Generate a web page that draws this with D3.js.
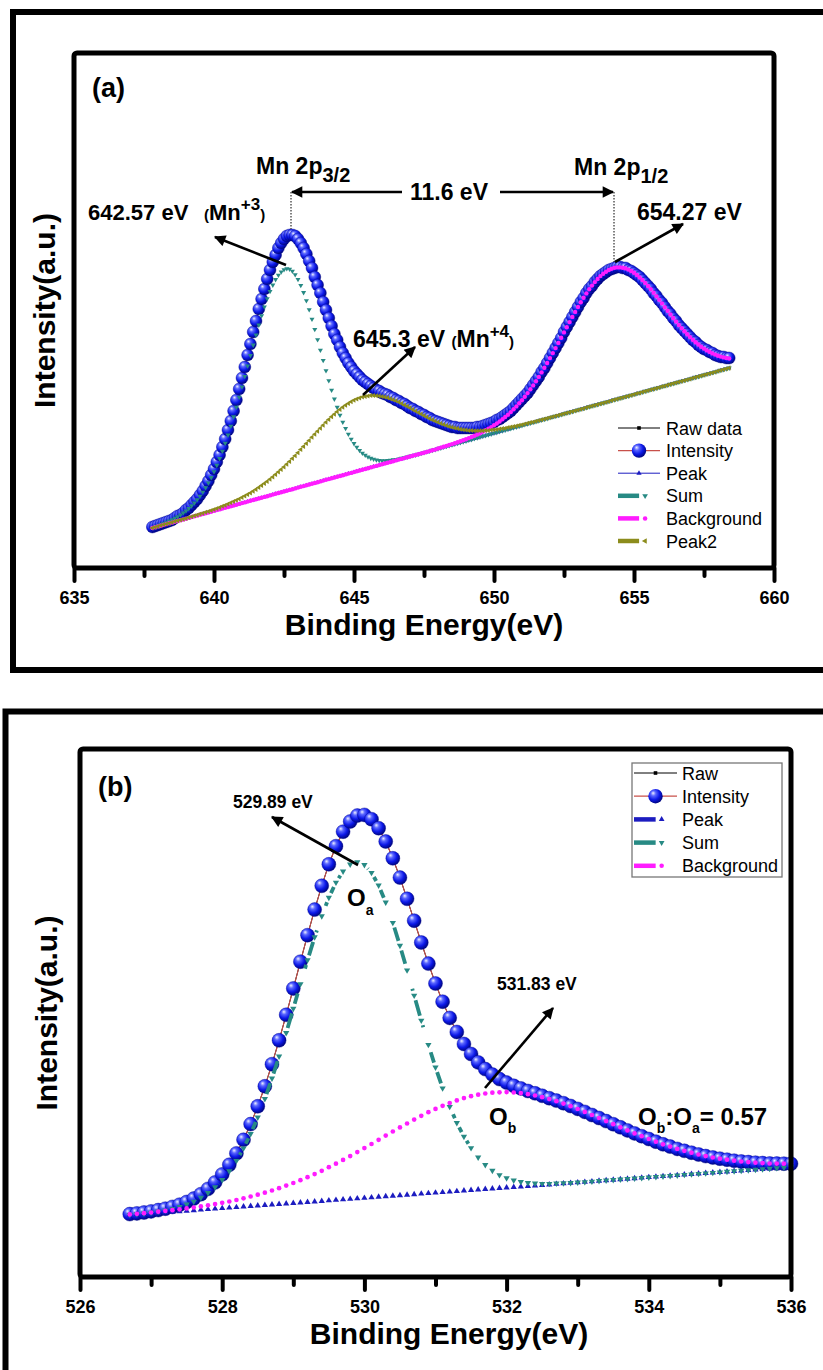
<!DOCTYPE html>
<html>
<head>
<meta charset="utf-8">
<script src="https://cdn.jsdelivr.net/npm/d3@7"></script>
<style>
  body { margin: 0; background: #fff; }
  svg { display: block; }
</style>
</head>
<body>
<svg id="chart" width="823" height="1370"></svg>
<script>
// ---------- Mn 2p spectrum (panel a), 0.1 eV steps from 637.8 eV ----------
const startA = 637.8, stepA = 0.1;
const ticksA = [635, 640, 645, 650, 655, 660];
const minorA = [637.5, 642.5, 647.5, 652.5, 657.5];

const intensityA = [
  41,42,43,44,45,46,47,48,50,52, 53,55,58,60,63,66,69,73,77,82,
  87,93,99,106,113,121,129,138,147,157, 168,179,190,201,213,224,236,247,259,269,
  279,289,298,306,313,320,325,329,332,333, 333,332,329,325,320,314,307,300,291,283,
  275,266,258,250,242,234,228,221,215,210, 205,201,197,194,191,188,186,184,182,180,
  178,177,175,174,173,171,170,168,167,165, 164,162,160,159,157,156,154,153,151,150,
  148,147,146,145,144,143,142,141,141,140, 140,140,140,140,140,140,141,141,142,143,
  144,145,146,148,149,151,153,155,157,160, 163,166,169,172,175,179,183,187,191,196,
  200,205,210,215,220,225,230,236,241,246, 251,256,261,266,270,275,279,282,286,289,
  292,294,296,298,299,300,301,301,300,300, 298,297,295,293,291,288,285,282,279,275,
  272,268,265,261,257,254,250,247,243,240, 237,234,231,228,226,223,221,219,218,216,
  215,213,212,211,211,210,210
];
// baseline ("Peak")
const peakA = [
  40.0,40.8,41.6,42.3,43.1,43.9,44.7,45.4,46.2,47.0, 47.8,48.5,49.3,50.1,50.9,51.7,52.4,53.2,54.0,54.8,
  55.5,56.3,57.1,57.9,58.6,59.4,60.2,61.0,61.7,62.5, 63.3,64.1,64.9,65.6,66.4,67.2,68.0,68.7,69.5,70.3,
  71.1,71.8,72.6,73.4,74.2,75.0,75.7,76.5,77.3,78.1, 78.8,79.6,80.4,81.2,81.9,82.7,83.5,84.3,85.0,85.8,
  86.6,87.4,88.2,88.9,89.7,90.5,91.3,92.0,92.8,93.6, 94.4,95.1,95.9,96.7,97.5,98.3,99.0,99.8,100.6,101.4,
  102.1,102.9,103.7,104.5,105.2,106.0,106.8,107.6,108.4,109.1, 109.9,110.7,111.5,112.2,113.0,113.8,114.6,115.3,116.1,116.9,
  117.7,118.4,119.2,120.0,120.8,121.6,122.3,123.1,123.9,124.7, 125.4,126.2,127.0,127.8,128.5,129.3,130.1,130.9,131.7,132.4,
  133.2,134.0,134.8,135.5,136.3,137.1,137.9,138.6,139.4,140.2, 141.0,141.7,142.5,143.3,144.1,144.9,145.6,146.4,147.2,148.0,
  148.7,149.5,150.3,151.1,151.8,152.6,153.4,154.2,155.0,155.7, 156.5,157.3,158.1,158.8,159.6,160.4,161.2,161.9,162.7,163.5,
  164.3,165.0,165.8,166.6,167.4,168.2,168.9,169.7,170.5,171.3, 172.0,172.8,173.6,174.4,175.1,175.9,176.7,177.5,178.3,179.0,
  179.8,180.6,181.4,182.1,182.9,183.7,184.5,185.2,186.0,186.8, 187.6,188.3,189.1,189.9,190.7,191.5,192.2,193.0,193.8,194.6,
  195.3,196.1,196.9,197.7,198.4,199.2,200.0
];
// 642.57 eV component ("Sum")
const sumA = [
  40.6,41.5,42.5,43.5,44.6,45.7,47.0,48.3,49.7,51.4, 53.1,55.1,57.1,59.5,62.2,65.1,68.3,71.9,75.9,80.3,
  85.1,90.5,96.3,102.7,109.5,116.9,124.8,133.0,141.9,151.2, 160.9,170.9,181.1,191.6,202.1,212.6,223.0,233.1,243.0,252.3,
  261.1,269.3,276.6,283.0,288.5,292.8,296.1,298.3,299.4,298.9, 296.9,293.4,288.6,282.6,275.5,267.3,258.3,248.8,238.6,228.3,
  217.9,207.6,197.3,187.4,177.9,169.0,160.7,152.9,145.9,139.6, 133.8,128.8,124.5,120.8,117.6,114.9,112.8,111.1,109.7,108.8,
  108.1,107.6,107.4,107.4,107.6,107.8,108.2,108.6,109.1,109.7, 110.4,111.0,111.7,112.3,113.0,113.8,114.6,115.3,116.1,116.9,
  117.7,118.4,119.2,120.0,120.8,121.6,122.3,123.1,123.9,124.7, 125.4,126.2,127.0,127.8,128.5,129.3,130.1,130.9,131.7,132.4,
  133.2,134.0,134.8,135.5,136.3,137.1,137.9,138.6,139.4,140.2, 141.0,141.7,142.5,143.3,144.1,144.9,145.6,146.4,147.2,148.0,
  148.7,149.5,150.3,151.1,151.8,152.6,153.4,154.2,155.0,155.7, 156.5,157.3,158.1,158.8,159.6,160.4,161.2,161.9,162.7,163.5,
  164.3,165.0,165.8,166.6,167.4,168.2,168.9,169.7,170.5,171.3, 172.0,172.8,173.6,174.4,175.1,175.9,176.7,177.5,178.3,179.0,
  179.8,180.6,181.4,182.1,182.9,183.7,184.5,185.2,186.0,186.8, 187.6,188.3,189.1,189.9,190.7,191.5,192.2,193.0,193.8,194.6,
  195.3,196.1,196.9,197.7,198.4,199.2,200.0
];
// 654.27 eV component ("Background")
const backgroundA = [
  40.0,40.8,41.6,42.3,43.1,43.9,44.7,45.4,46.2,47.0, 47.8,48.5,49.3,50.1,50.9,51.7,52.4,53.2,54.0,54.8,
  55.5,56.3,57.1,57.9,58.6,59.4,60.2,61.0,61.7,62.5, 63.3,64.1,64.9,65.6,66.4,67.2,68.0,68.7,69.5,70.3,
  71.1,71.8,72.6,73.4,74.2,75.0,75.7,76.5,77.3,78.1, 78.8,79.6,80.4,81.2,81.9,82.7,83.5,84.3,85.0,85.8,
  86.6,87.4,88.2,88.9,89.7,90.5,91.3,92.0,92.8,93.6, 94.4,95.1,95.9,96.7,97.5,98.3,99.0,99.8,100.6,101.4,
  102.1,102.9,103.7,104.5,105.2,106.0,106.8,107.6,108.4,109.1, 109.9,110.7,111.5,112.2,113.0,113.8,114.6,115.3,116.1,116.9,
  117.7,118.4,119.5,120.4,121.2,122.1,123.0,123.9,124.8,125.8, 126.7,127.8,128.8,129.9,131.0,132.2,133.5,134.8,136.2,137.7,
  139.3,140.9,142.7,144.5,146.5,148.7,151.0,153.3,155.9,158.7, 161.6,164.7,167.8,171.3,174.9,178.7,182.6,186.8,191.1,195.6,
  200.2,205.0,209.9,214.9,219.9,225.1,230.3,235.6,240.8,245.9, 251.1,256.1,261.0,265.7,270.2,274.6,278.7,282.4,285.9,289.0,
  291.9,294.3,296.3,298.0,299.3,300.2,300.6,300.6,300.3,299.6, 298.4,297.0,295.2,293.1,290.6,288.0,285.1,282.0,278.8,275.3,
  271.8,268.2,264.6,260.8,257.2,253.6,250.0,246.5,243.1,239.9, 236.8,233.8,230.9,228.3,225.8,223.5,221.3,219.4,217.6,216.1,
  214.6,213.4,212.3,211.4,210.6,210.0,209.5
];
// 645.3 eV component ("Peak2")
const peak2A = [
  40.0,40.8,41.6,42.4,43.2,44.0,44.8,45.6,46.4,47.2, 48.0,48.8,49.6,50.5,51.3,52.2,53.0,53.9,54.8,55.7,
  56.6,57.6,58.6,59.6,60.6,61.7,62.8,64.0,65.2,66.4, 67.7,69.1,70.5,72.0,73.5,75.1,76.8,78.6,80.4,82.4,
  84.4,86.5,88.7,91.0,93.4,95.9,98.4,101.0,103.8,106.6, 109.4,112.3,115.3,118.4,121.4,124.5,127.6,130.7,133.8,136.8,
  139.8,142.8,145.7,148.5,151.2,153.8,156.3,158.5,160.7,162.8, 164.6,166.2,167.7,169.0,170.1,171.0,171.6,172.1,172.4,172.5,
  172.3,172.1,171.6,171.0,170.2,169.3,168.3,167.2,165.9,164.5, 163.1,161.7,160.2,158.6,157.1,155.6,154.1,152.5,151.0,149.6,
  148.3,147.0,145.7,144.5,143.5,142.5,141.5,140.7,140.0,139.4, 138.7,138.3,137.9,137.6,137.4,137.3,137.2,137.2,137.3,137.4,
  137.6,137.9,138.2,138.5,138.9,139.4,139.8,140.4,140.9,141.5, 142.1,142.7,143.3,144.0,144.7,145.4,146.1,146.8,147.5,148.2,
  149.0,149.7,150.4,151.2,151.9,152.7,153.5,154.2,155.0,155.8, 156.5,157.3,158.1,158.8,159.6,160.4,161.2,161.9,162.7,163.5,
  164.3,165.0,165.8,166.6,167.4,168.2,168.9,169.7,170.5,171.3, 172.0,172.8,173.6,174.4,175.1,175.9,176.7,177.5,178.3,179.0,
  179.8,180.6,181.4,182.1,182.9,183.7,184.5,185.2,186.0,186.8, 187.6,188.3,189.1,189.9,190.7,191.5,192.2,193.0,193.8,194.6,
  195.3,196.1,196.9,197.7,198.4,199.2,200.0
];

// ---------- O 1s spectrum (panel b), 0.1 eV steps from 526.7 eV ----------
const startB = 526.7, stepB = 0.1;
const ticksB = [526, 528, 530, 532, 534, 536];
const minorB = [527, 529, 531, 533, 535];

const intensityB = [
  62.9,63.6,64.5,65.6,66.9,68.3,70.1,72.3,75.0,78.4, 82.8,88.1,94.6,102.6,112.2,123.6,137.2,152.9,170.7,190.7,
  212.8,236.7,262.2,288.5,315.3,341.8,367.4,391.2,412.7,430.8, 445.3,455.5,461.4,462.1,457.8,448.8,435.5,418.7,399.4,378.2,
  356.3,334.5,313.4,293.5,275.3,259.1,245.0,233.0,223.0,214.6, 207.9,202.4,197.9,194.4,191.2,188.6,186.0,183.7,181.2,178.8,
  176.4,173.8,171.0,168.1,165.1,162.0,159.0,155.9,152.8,149.7, 146.6,143.6,140.8,138.0,135.3,132.7,130.4,128.1,126.2,124.3,
  122.5,120.9,119.5,118.3,117.3,116.3,115.5,114.9,114.3,113.9, 113.5,113.4,113.3,113.2
];
const peakB = [
  62.0,62.5,63.0,63.5,64.1,64.6,65.1,65.6,66.1,66.6, 67.2,67.7,68.2,68.7,69.2,69.7,70.3,70.8,71.3,71.8,
  72.3,72.8,73.4,73.9,74.4,74.9,75.4,75.9,76.5,77.0, 77.5,78.0,78.5,79.0,79.5,80.1,80.6,81.1,81.6,82.1,
  82.6,83.2,83.7,84.2,84.7,85.2,85.7,86.3,86.8,87.3, 87.8,88.3,88.8,89.4,89.9,90.4,90.9,91.4,91.9,92.4,
  93.0,93.5,94.0,94.5,95.0,95.5,96.1,96.6,97.1,97.6, 98.1,98.6,99.2,99.7,100.2,100.7,101.2,101.7,102.3,102.8,
  103.3,103.8,104.3,104.8,105.4,105.9,106.4,106.9,107.4,107.9, 108.4,109.0,109.5,110.0
];
const sumB = [
  62.3,63.0,63.7,64.5,65.6,66.8,68.3,70.2,72.6,75.5, 79.4,84.1,89.9,97.1,105.9,116.3,128.8,143.2,159.7,178.2,
  198.6,220.7,244.2,268.4,292.9,316.9,339.9,360.9,379.4,394.5, 405.7,412.6,415.0,412.2,404.3,391.7,374.7,354.3,331.4,306.8,
  281.5,256.5,232.3,209.6,188.8,170.3,154.1,140.4,129.0,119.6, 112.2,106.4,102.0,98.9,96.6,95.1,94.1,93.6,93.3,93.3,
  93.6,93.9,94.2,94.6,95.0,95.5,96.1,96.6,97.1,97.6, 98.1,98.6,99.2,99.7,100.2,100.7,101.2,101.7,102.3,102.8,
  103.3,103.8,104.3,104.8,105.4,105.9,106.4,106.9,107.4,107.9, 108.4,109.0,109.5,110.0
];
const backgroundB = [
  62.6,63.2,63.8,64.5,65.3,66.1,66.8,67.7,68.6,69.5, 70.6,71.7,72.9,74.2,75.5,77.0,78.7,80.5,82.3,84.3,
  86.5,88.8,91.4,94.0,96.8,99.8,102.9,106.2,109.8,113.3, 117.1,120.9,124.9,128.9,133.0,137.2,141.4,145.5,149.6,153.5,
  157.4,161.2,164.8,168.1,171.2,174.0,176.6,178.9,180.8,182.3, 183.5,184.3,184.7,184.9,184.5,183.9,182.8,181.5,179.8,177.9,
  175.8,173.4,170.8,168.0,165.1,162.0,159.0,155.9,152.8,149.7, 146.6,143.6,140.8,138.0,135.3,132.7,130.4,128.1,126.2,124.3,
  122.5,120.9,119.5,118.3,117.3,116.3,115.5,114.9,114.3,113.9, 113.5,113.4,113.3,113.2
];

const legendA = ["Raw data", "Intensity", "Peak", "Sum", "Background", "Peak2"];
const legendB = ["Raw", "Intensity", "Peak", "Sum", "Background"];

const FONT = '"Liberation Sans", Arial, Helvetica, sans-serif';
const col = {
  raw: "#000", line: "#c8504a", peak: "#1c1cc0", sum: "#278a84",
  background: "#ff1cff", peak2: "#8c8c1c"
};

const svg = d3.select("#chart").attr("font-family", FONT);
svg.append("rect").attr("width", 823).attr("height", 1370).attr("fill", "#fff");

const defs = svg.append("defs");
const ball = defs.append("radialGradient").attr("id", "ball")
  .attr("cx", "40%").attr("cy", "38%").attr("r", "62%").attr("fx", "33%").attr("fy", "28%");
[["0%", "#eef0ff"], ["28%", "#5a66ff"], ["65%", "#0c18e8"], ["100%", "#000682"]]
  .forEach(s => ball.append("stop").attr("offset", s[0]).attr("stop-color", s[1]));
defs.append("marker").attr("id", "head").attr("viewBox", "0 0 10 10")
  .attr("refX", 9).attr("refY", 5).attr("markerWidth", 5.5).attr("markerHeight", 4.4)
  .attr("orient", "auto-start-reverse")
  .append("path").attr("d", "M0,0L10,5L0,10z").attr("fill", "#000");

// outer borders
svg.append("rect").attr("x", 13).attr("y", 12).attr("width", 860).attr("height", 658)
  .attr("fill", "none").attr("stroke", "#000").attr("stroke-width", 6);
svg.append("rect").attr("x", 5.5).attr("y", 711.5).attr("width", 860).attr("height", 720)
  .attr("fill", "none").attr("stroke", "#000").attr("stroke-width", 6);

// line pieces between symbols: a gap is left round every symbol and,
// when dash = [on, off] is given, the pieces follow that dash pattern
function gapPath(pts, gap, dash) {
  let d = "", s = 0;
  const period = dash ? dash[0] + dash[1] : 0;
  for (let i = 1; i < pts.length; i++) {
    const [x0, y0] = pts[i - 1], [x1, y1] = pts[i];
    const len = Math.hypot(x1 - x0, y1 - y0);
    if (len > 2 * gap) {
      const ux = (x1 - x0) / len, uy = (y1 - y0) / len;
      const piece = (a, b) => {
        d += `M${x0 + ux * a},${y0 + uy * a}L${x0 + ux * b},${y0 + uy * b}`;
      };
      if (!dash) piece(gap, len - gap);
      else {
        for (let k = Math.floor((s + gap) / period); k * period <= s + len - gap; k++) {
          const lo = Math.max(k * period, s + gap), hi = Math.min(k * period + dash[0], s + len - gap);
          if (hi > lo) piece(lo - s, hi - s);
        }
      }
    }
    s += len;
  }
  return d;
}

function symbols(g, pts, type, size, color, rot) {
  const d = d3.symbol().type(type).size(size)();
  g.append("g").selectAll("path").data(pts).join("path")
    .attr("d", d).attr("fill", color)
    .attr("transform", p => `translate(${p[0]},${p[1]}) rotate(${rot || 0})`);
}

function drawPanel(p) {
  const x = d3.scaleLinear().domain(p.xDomain).range([p.left, p.right]);
  const y = d3.scaleLinear().domain(p.yDomain).range([p.bottom, p.top]);
  const energy = p.intensity.map((_, i) => p.start + i * p.step);
  const pts = vals => vals.map((v, i) => [x(energy[i]), y(v)]);
  const g = svg.append("g");

  const ip = pts(p.intensity);
  g.append("path").attr("d", d3.line()(ip)).attr("fill", "none")
    .attr("stroke", col.raw).attr("stroke-width", 1);
  g.append("path").attr("d", d3.line()(ip)).attr("fill", "none")
    .attr("stroke", col.line).attr("stroke-width", 1.1);
  g.append("g").selectAll("circle").data(ip).join("circle")
    .attr("cx", d => d[0]).attr("cy", d => d[1]).attr("r", p.ballR)
    .attr("fill", "url(#ball)").attr("stroke", "#00068a").attr("stroke-width", 0.4);

  p.series.forEach(s => {
    const sp = pts(s.values);
    if (s.width) {
      g.append("path").attr("d", gapPath(sp, s.gap, s.dash)).attr("fill", "none")
        .attr("stroke", s.color).attr("stroke-width", s.width);
    }
    symbols(g, sp, s.type, s.size, s.color, s.rot);
  });

  // plot frame
  g.append("rect").attr("x", p.left).attr("y", p.top)
    .attr("width", p.right - p.left).attr("height", p.bottom - p.top).attr("rx", 3)
    .attr("fill", "none").attr("stroke", "#000").attr("stroke-width", 5);

  const minor = g.append("g").attr("transform", `translate(0,${p.bottom})`)
    .call(d3.axisBottom(x).tickValues(p.minor).tickSize(8).tickFormat(""));
  const major = g.append("g").attr("transform", `translate(0,${p.bottom})`)
    .call(d3.axisBottom(x).tickValues(p.ticks).tickSize(13).tickFormat(d3.format("d")));
  [minor, major].forEach(a => {
    a.select(".domain").remove();
    a.selectAll("line").attr("stroke", "#000").attr("stroke-width", 4).attr("stroke-linecap", "round");
  });
  major.attr("font-family", FONT).attr("font-size", 18).attr("font-weight", "bold");
  major.selectAll("text").attr("y", 23).attr("fill", "#000");

  g.append("text").attr("x", p.titleX).attr("y", p.bottom + 67)
    .attr("text-anchor", "middle").attr("font-size", 30).attr("font-weight", "bold")
    .text("Binding Energy(eV)");
  g.append("text")
    .attr("transform", `translate(${p.yTitleX},${(p.top + p.bottom) / 2}) rotate(-90)`)
    .attr("text-anchor", "middle").attr("font-size", 30).attr("font-weight", "bold")
    .text("Intensity(a.u.)");
  g.append("text").attr("x", p.left + 18).attr("y", p.top + p.tagDy)
    .attr("font-size", 27).attr("font-weight", "bold").text(p.tag);
  return { x, y };
}

drawPanel({
  tag: "(a)", tagDy: 44,
  start: startA, step: stepA, intensity: intensityA,
  xDomain: [635, 660], left: 74, right: 774,
  yDomain: [0, 515], top: 53, bottom: 568,
  ticks: ticksA, minor: minorA, ballR: 6, titleX: 424, yTitleX: 55,
  series: [
    { values: peakA, type: d3.symbolTriangle, size: 8, color: col.peak },
    { values: sumA, type: d3.symbolTriangle, size: 11, color: col.sum, rot: 180 },
    { values: backgroundA, type: d3.symbolCircle, size: 15, color: col.background },
    { values: peak2A, type: d3.symbolTriangle, size: 11, color: col.peak2, rot: -90 }
  ]
});

drawPanel({
  tag: "(b)", tagDy: 47,
  start: startB, step: stepB, intensity: intensityB,
  xDomain: [526, 536], left: 80, right: 791,
  yDomain: [0, 528], top: 749, bottom: 1277,
  ticks: ticksB, minor: minorB, ballR: 7, titleX: 449, yTitleX: 57,
  series: [
    { values: peakB, type: d3.symbolTriangle, size: 17, color: col.peak, width: 3.5, gap: 5 },
    { values: sumB, type: d3.symbolTriangle, size: 17, color: col.sum, rot: 180, width: 3.8, gap: 5, dash: [40, 26] },
    { values: backgroundB, type: d3.symbolCircle, size: 17, color: col.background, width: 3.5, gap: 5 }
  ]
});

// ---------- legends ----------
function legendKey(g, key, x0, x1, y, thin) {
  const mid = thin ? (x0 + x1) / 2 : x0 + (x1 - x0) * 0.55;
  const thick = x => g.append("line").attr("x1", x0).attr("x2", x).attr("y1", y).attr("y2", y);
  const sym = (type, size, color, rot) => g.append("path").attr("d", d3.symbol().type(type).size(size)())
    .attr("fill", color).attr("transform", `translate(${mid + 4},${y}) rotate(${rot || 0})`);
  if (key === "raw") {
    g.append("line").attr("x1", x0).attr("x2", x1).attr("y1", y).attr("y2", y).attr("stroke", "#000").attr("stroke-width", 1);
    g.append("rect").attr("x", (x0 + x1) / 2 - 1.8).attr("y", y - 1.8).attr("width", 3.6).attr("height", 3.6).attr("fill", "#000");
  } else if (key === "intensity") {
    g.append("line").attr("x1", x0).attr("x2", x1).attr("y1", y).attr("y2", y).attr("stroke", col.line).attr("stroke-width", 1.2);
    g.append("circle").attr("cx", (x0 + x1) / 2).attr("cy", y).attr("r", 7.2).attr("fill", "url(#ball)");
  } else if (key === "peak" && thin) {
    g.append("line").attr("x1", x0).attr("x2", x1).attr("y1", y).attr("y2", y).attr("stroke", col.peak).attr("stroke-width", 1);
    g.append("path").attr("d", d3.symbol().type(d3.symbolTriangle).size(12)())
      .attr("fill", col.peak).attr("transform", `translate(${(x0 + x1) / 2},${y})`);
  } else {
    const spec = {
      peak: [d3.symbolTriangle, 14, col.peak, 0],
      sum: [d3.symbolTriangle, 14, col.sum, 180],
      background: [d3.symbolCircle, 16, col.background, 0],
      peak2: [d3.symbolTriangle, 14, col.peak2, -90]
    }[key];
    thick(mid - 2).attr("stroke", spec[2]).attr("stroke-width", 4.5);
    sym(spec[0], spec[1], spec[2], spec[3]);
  }
}

const keysA = ["raw", "intensity", "peak", "sum", "background", "peak2"];
const legA = svg.append("g");
legendA.forEach((name, i) => {
  const y = 428 + i * 22.6;
  legendKey(legA, keysA[i], 618, 660, y, i < 3);
  legA.append("text").attr("x", 666).attr("y", y + 6.5).attr("font-size", 18).text(name);
});

const keysB = ["raw", "intensity", "peak", "sum", "background"];
const legB = svg.append("g");
legB.append("rect").attr("x", 632).attr("y", 763).attr("width", 150).attr("height", 114)
  .attr("fill", "#fff").attr("stroke", "#777").attr("stroke-width", 1.3);
legendB.forEach((name, i) => {
  const y = 773 + i * 23.2;
  legendKey(legB, keysB[i], 634, 677, y, i < 2);
  legB.append("text").attr("x", 682).attr("y", y + 6.5).attr("font-size", 18).text(name);
});

// ---------- annotations ----------
const ann = svg.append("g").attr("font-weight", "bold").attr("fill", "#000");
function label(x, y, size, parts) {
  const t = ann.append("text").attr("x", x).attr("y", y).attr("font-size", size);
  parts.forEach(p => {
    if (typeof p === "string") { t.append("tspan").text(p); return; }
    t.append("tspan").attr("font-size", p.size).attr("dy", p.dy || 0).text(p.text);
  });
  return t;
}
function arrow(x1, y1, x2, y2) {
  ann.append("line").attr("x1", x1).attr("y1", y1).attr("x2", x2).attr("y2", y2)
    .attr("stroke", "#000").attr("stroke-width", 2.6).attr("marker-end", "url(#head)");
}
function dotted(x, y1, y2) {
  ann.append("line").attr("x1", x).attr("x2", x).attr("y1", y1).attr("y2", y2)
    .attr("stroke", "#000").attr("stroke-width", 1).attr("stroke-dasharray", "1.5,1.5");
}

// panel (a)
label(256, 174, 23, ["Mn 2p", { text: "3/2", size: 20, dy: 8 }]);
label(574, 175, 23, ["Mn 2p", { text: "1/2", size: 20, dy: 8 }]);
dotted(291, 192, 229);
dotted(614, 192, 262);
arrow(402, 192, 292, 192);
arrow(500, 192, 613, 192);
label(449, 200, 23, ["11.6 eV"]).attr("text-anchor", "middle");
label(637, 220, 23, ["654.27 eV"]);
arrow(615, 262, 683, 224);
label(88, 220, 22, ["642.57 eV "]);
label(204, 220, 22, [{ text: "(", size: 15 }, { text: "Mn", size: 22 },
  { text: "+3", size: 17, dy: -10 }, { text: ")", size: 15, dy: 10 }]);
arrow(286, 265, 215, 237);
label(353, 347, 23, ["645.3 eV ", { text: "(", size: 15 }, { text: "Mn", size: 23 },
  { text: "+4", size: 17, dy: -10 }, { text: ")", size: 15, dy: 10 }]);
arrow(363, 395, 415, 347);

// panel (b)
label(233, 808, 17.5, ["529.89 eV"]);
arrow(358, 865, 272, 817);
label(347, 906, 24, ["O", { text: "a", size: 14, dy: 9 }]);
label(497, 990, 17.5, ["531.83 eV"]);
arrow(485, 1088, 553, 1008);
label(489, 1125, 24, ["O", { text: "b", size: 14, dy: 8 }]);
label(638, 1125, 24, ["O", { text: "b", size: 14, dy: 8 }, { text: ":O", size: 24, dy: -8 },
  { text: "a", size: 14, dy: 8 }, { text: "= 0.57", size: 24, dy: -8 }]);
</script>
</body>
</html>
